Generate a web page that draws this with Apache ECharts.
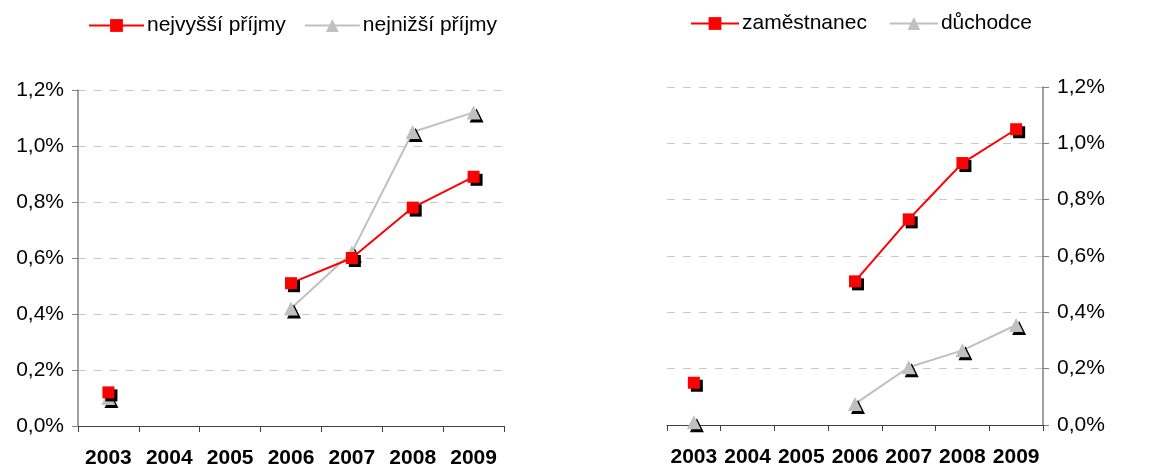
<!DOCTYPE html>
<html>
<head>
<meta charset="utf-8">
<script src="https://cdn.jsdelivr.net/npm/echarts@6/dist/echarts.min.js"></script>
<style>
html,body{margin:0;padding:0;background:#fff;}
#chart{width:1176px;height:465px;}
</style>
</head>
<body>
<div id="chart"></div>
<script>
// Data (values in %)
const years = ['2003','2004','2005','2006','2007','2008','2009'];
const leftSeriesNames = ['nejvyšší příjmy','nejnižší příjmy'];
const nejvyssiPrijmy = [0.12, null, null, 0.51, 0.60, 0.78, 0.89];
const nejnizsiPrijmy = [0.10, null, null, 0.42, 0.62, 1.05, 1.12];
const rightSeriesNames = ['zaměstnanec','důchodce'];
const zamestnanec = [0.15, null, null, 0.51, 0.73, 0.93, 1.05];
const duchodce = [0.01, null, null, 0.075, 0.205, 0.265, 0.355];
const yTicks = [0, 0.2, 0.4, 0.6, 0.8, 1.0, 1.2];

const FONT = 'Liberation Sans, Arial, sans-serif';
const RED = '#ff0000';
const GRAY = '#c0c0c0';
const AXIS = '#808080';

const fmt = v => v.toFixed(1).replace('.', ',') + '%';

function xAxis(gridIndex) {
  return {
    type: 'category', gridIndex, data: years, boundaryGap: true,
    axisLine: { show: true, onZero: false, lineStyle: { color: '#404040', width: 1 } },
    axisTick: { show: true, inside: false, length: 6, interval: 0, lineStyle: { color: '#404040' } },
    axisLabel: { margin: 22, interval: 0, hideOverlap: false, color: '#000', fontFamily: FONT, fontSize: 21, fontWeight: 'bold' },
    splitLine: { show: false }
  };
}
function yAxis(gridIndex, position) {
  return {
    type: 'value', gridIndex, position, min: yTicks[0], max: yTicks[yTicks.length-1], interval: 0.2,
    axisLine: { show: true, lineStyle: { color: AXIS, width: 1.5 } },
    axisTick: { show: true, inside: false, length: 6, lineStyle: { color: AXIS } },
    axisLabel: { margin: 14, color: '#000', fontFamily: FONT, fontSize: 21, formatter: fmt },
    splitLine: { show: true, lineStyle: { color: '#c8c8c8', type: [8, 8], width: 1 } }
  };
}
function line(name, data, idx, color, symbol, size) {
  return {
    name, type: 'line', xAxisIndex: idx, yAxisIndex: idx, data,
    connectNulls: false, symbol, symbolSize: size, showAllSymbol: true,
    lineStyle: { color, width: 2, shadowBlur: 0, shadowColor: 'transparent' },
    itemStyle: { color, shadowColor: '#000', shadowBlur: 0, shadowOffsetX: 3, shadowOffsetY: 3 },
    emphasis: { disabled: true },
    animation: false, z: symbol === 'rect' ? 3 : 2
  };
}

const chart = echarts.init(document.getElementById('chart'), null, { renderer: 'canvas' });
const legendCommon = {
  itemHeight: 16,
  textStyle: { fontFamily: FONT, fontSize: 21, color: '#000', padding: [0,0,0,-2] },
  itemStyle: { shadowColor: 'transparent', shadowBlur: 0, shadowOffsetX: 0, shadowOffsetY: 0 }
};
chart.setOption({
  animation: false,
  backgroundColor: '#fff',
  legend: [
    Object.assign({ left: 83, top: 10, itemWidth: 55, itemGap: 18, data: leftSeriesNames }, legendCommon),
    Object.assign({ left: 685, top: 8, itemWidth: 48, itemGap: 22, data: rightSeriesNames }, legendCommon)
  ],
  grid: [
    { left: 78, right: 672, top: 90, bottom: 39, containLabel: false, outerBoundsMode: 'none' },
    { left: 667, right: 133, top: 87, bottom: 40, containLabel: false, outerBoundsMode: 'none' }
  ],
  xAxis: [xAxis(0), xAxis(1)],
  yAxis: [yAxis(0, 'left'), yAxis(1, 'right')],
  series: [
    line(leftSeriesNames[0], nejvyssiPrijmy, 0, RED, 'rect', 12),
    line(leftSeriesNames[1], nejnizsiPrijmy, 0, GRAY, 'triangle', 14),
    line(rightSeriesNames[0], zamestnanec, 1, RED, 'rect', 12),
    line(rightSeriesNames[1], duchodce, 1, GRAY, 'triangle', 14)
  ]
});
</script>
</body>
</html>
